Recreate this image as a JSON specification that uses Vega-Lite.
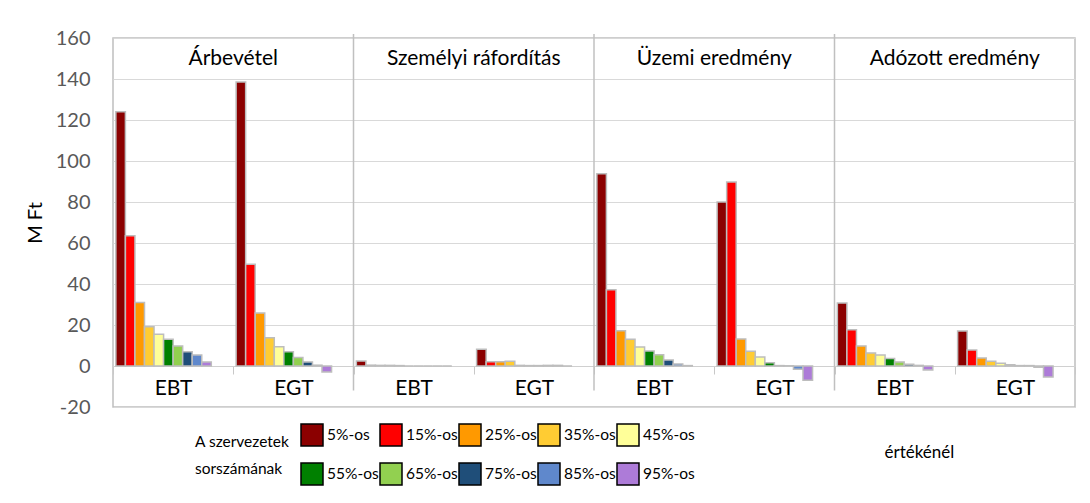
{
  "$schema": "https://vega.github.io/schema/vega-lite/v6.json",
  "autosize": {"type": "none"},
  "width": 962,
  "height": 369,
  "padding": {"left": 113, "top": 38, "right": 15, "bottom": 96},
  "background": "white",
  "config": {
    "font": "Lato",
    "view": {"stroke": "#bfbfbf", "strokeWidth": 1.5},
    "axisX": {"titleFontSize": 17, "titleFontWeight": "normal", "titleColor": "black", "labelFontSize": 21, "labelColor": "black"},
    "axisY": {"titleFontSize": 20, "titleFontWeight": "normal", "titleColor": "black", "labelFontSize": 20, "labelColor": "#595959"}
  },
  "datasets": {
    "bars": [
      {"p": "Árbevétel", "g": "EBT", "s": "5%-os", "v": 124},
      {"p": "Árbevétel", "g": "EBT", "s": "15%-os", "v": 63.5},
      {"p": "Árbevétel", "g": "EBT", "s": "25%-os", "v": 31},
      {"p": "Árbevétel", "g": "EBT", "s": "35%-os", "v": 19.2},
      {"p": "Árbevétel", "g": "EBT", "s": "45%-os", "v": 15.5},
      {"p": "Árbevétel", "g": "EBT", "s": "55%-os", "v": 13},
      {"p": "Árbevétel", "g": "EBT", "s": "65%-os", "v": 9.8},
      {"p": "Árbevétel", "g": "EBT", "s": "75%-os", "v": 7},
      {"p": "Árbevétel", "g": "EBT", "s": "85%-os", "v": 5.4},
      {"p": "Árbevétel", "g": "EBT", "s": "95%-os", "v": 2},
      {"p": "Árbevétel", "g": "EGT", "s": "5%-os", "v": 138.5},
      {"p": "Árbevétel", "g": "EGT", "s": "15%-os", "v": 49.6},
      {"p": "Árbevétel", "g": "EGT", "s": "25%-os", "v": 25.8},
      {"p": "Árbevétel", "g": "EGT", "s": "35%-os", "v": 13.8},
      {"p": "Árbevétel", "g": "EGT", "s": "45%-os", "v": 9.4},
      {"p": "Árbevétel", "g": "EGT", "s": "55%-os", "v": 7},
      {"p": "Árbevétel", "g": "EGT", "s": "65%-os", "v": 4.1},
      {"p": "Árbevétel", "g": "EGT", "s": "75%-os", "v": 2},
      {"p": "Árbevétel", "g": "EGT", "s": "85%-os", "v": 0.4},
      {"p": "Árbevétel", "g": "EGT", "s": "95%-os", "v": -2.9},
      {"p": "Személyi ráfordítás", "g": "EBT", "s": "5%-os", "v": 2.4},
      {"p": "Személyi ráfordítás", "g": "EBT", "s": "15%-os", "v": 0.4},
      {"p": "Személyi ráfordítás", "g": "EBT", "s": "25%-os", "v": 0.3},
      {"p": "Személyi ráfordítás", "g": "EBT", "s": "35%-os", "v": 0.3},
      {"p": "Személyi ráfordítás", "g": "EBT", "s": "45%-os", "v": 0.2},
      {"p": "Személyi ráfordítás", "g": "EBT", "s": "55%-os", "v": 0},
      {"p": "Személyi ráfordítás", "g": "EBT", "s": "65%-os", "v": 0},
      {"p": "Személyi ráfordítás", "g": "EBT", "s": "75%-os", "v": 0},
      {"p": "Személyi ráfordítás", "g": "EBT", "s": "85%-os", "v": 0},
      {"p": "Személyi ráfordítás", "g": "EBT", "s": "95%-os", "v": 0},
      {"p": "Személyi ráfordítás", "g": "EGT", "s": "5%-os", "v": 8.2},
      {"p": "Személyi ráfordítás", "g": "EGT", "s": "15%-os", "v": 2.1},
      {"p": "Személyi ráfordítás", "g": "EGT", "s": "25%-os", "v": 2.1},
      {"p": "Személyi ráfordítás", "g": "EGT", "s": "35%-os", "v": 2.3},
      {"p": "Személyi ráfordítás", "g": "EGT", "s": "45%-os", "v": 0.3},
      {"p": "Személyi ráfordítás", "g": "EGT", "s": "55%-os", "v": 0.2},
      {"p": "Személyi ráfordítás", "g": "EGT", "s": "65%-os", "v": 0.2},
      {"p": "Személyi ráfordítás", "g": "EGT", "s": "75%-os", "v": 0.3},
      {"p": "Személyi ráfordítás", "g": "EGT", "s": "85%-os", "v": 0.3},
      {"p": "Személyi ráfordítás", "g": "EGT", "s": "95%-os", "v": 0},
      {"p": "Üzemi eredmény", "g": "EBT", "s": "5%-os", "v": 93.8},
      {"p": "Üzemi eredmény", "g": "EBT", "s": "15%-os", "v": 37.2},
      {"p": "Üzemi eredmény", "g": "EBT", "s": "25%-os", "v": 17.2},
      {"p": "Üzemi eredmény", "g": "EBT", "s": "35%-os", "v": 13},
      {"p": "Üzemi eredmény", "g": "EBT", "s": "45%-os", "v": 9.3},
      {"p": "Üzemi eredmény", "g": "EBT", "s": "55%-os", "v": 7.3},
      {"p": "Üzemi eredmény", "g": "EBT", "s": "65%-os", "v": 5.5},
      {"p": "Üzemi eredmény", "g": "EBT", "s": "75%-os", "v": 2.9},
      {"p": "Üzemi eredmény", "g": "EBT", "s": "85%-os", "v": 1},
      {"p": "Üzemi eredmény", "g": "EBT", "s": "95%-os", "v": 0.2},
      {"p": "Üzemi eredmény", "g": "EGT", "s": "5%-os", "v": 80},
      {"p": "Üzemi eredmény", "g": "EGT", "s": "15%-os", "v": 89.8},
      {"p": "Üzemi eredmény", "g": "EGT", "s": "25%-os", "v": 13.2},
      {"p": "Üzemi eredmény", "g": "EGT", "s": "35%-os", "v": 7.2},
      {"p": "Üzemi eredmény", "g": "EGT", "s": "45%-os", "v": 4.4},
      {"p": "Üzemi eredmény", "g": "EGT", "s": "55%-os", "v": 1.6},
      {"p": "Üzemi eredmény", "g": "EGT", "s": "65%-os", "v": 0.2},
      {"p": "Üzemi eredmény", "g": "EGT", "s": "75%-os", "v": 0.1},
      {"p": "Üzemi eredmény", "g": "EGT", "s": "85%-os", "v": -1.6},
      {"p": "Üzemi eredmény", "g": "EGT", "s": "95%-os", "v": -7},
      {"p": "Adózott eredmény", "g": "EBT", "s": "5%-os", "v": 30.7},
      {"p": "Adózott eredmény", "g": "EBT", "s": "15%-os", "v": 17.7},
      {"p": "Adózott eredmény", "g": "EBT", "s": "25%-os", "v": 9.8},
      {"p": "Adózott eredmény", "g": "EBT", "s": "35%-os", "v": 6.3},
      {"p": "Adózott eredmény", "g": "EBT", "s": "45%-os", "v": 5.4},
      {"p": "Adózott eredmény", "g": "EBT", "s": "55%-os", "v": 3.6},
      {"p": "Adózott eredmény", "g": "EBT", "s": "65%-os", "v": 2},
      {"p": "Adózott eredmény", "g": "EBT", "s": "75%-os", "v": 0.8},
      {"p": "Adózott eredmény", "g": "EBT", "s": "85%-os", "v": 0.3},
      {"p": "Adózott eredmény", "g": "EBT", "s": "95%-os", "v": -1.9},
      {"p": "Adózott eredmény", "g": "EGT", "s": "5%-os", "v": 17.1},
      {"p": "Adózott eredmény", "g": "EGT", "s": "15%-os", "v": 7.8},
      {"p": "Adózott eredmény", "g": "EGT", "s": "25%-os", "v": 3.9},
      {"p": "Adózott eredmény", "g": "EGT", "s": "35%-os", "v": 2.3},
      {"p": "Adózott eredmény", "g": "EGT", "s": "45%-os", "v": 1.3},
      {"p": "Adózott eredmény", "g": "EGT", "s": "55%-os", "v": 0.6},
      {"p": "Adózott eredmény", "g": "EGT", "s": "65%-os", "v": 0.2},
      {"p": "Adózott eredmény", "g": "EGT", "s": "75%-os", "v": 0.2},
      {"p": "Adózott eredmény", "g": "EGT", "s": "85%-os", "v": -0.6},
      {"p": "Adózott eredmény", "g": "EGT", "s": "95%-os", "v": -5.4}
    ],
    "panels": [
      {"p": "Árbevétel"},
      {"p": "Személyi ráfordítás"},
      {"p": "Üzemi eredmény"},
      {"p": "Adózott eredmény"}
    ]
  },
  "layer": [
    {
      "data": {"name": "bars"},
      "transform": [{"calculate": "datum.p + '|' + datum.g", "as": "slot"}],
      "mark": {"type": "bar", "stroke": "#bdbdbd", "strokeWidth": 1.5},
      "encoding": {
        "x": {
          "field": "slot", "type": "nominal",
          "scale": {
            "domain": ["Árbevétel|EBT", "Árbevétel|EGT", "Személyi ráfordítás|EBT", "Személyi ráfordítás|EGT", "Üzemi eredmény|EBT", "Üzemi eredmény|EGT", "Adózott eredmény|EBT", "Adózott eredmény|EGT"],
            "paddingInner": 0, "paddingOuter": 0
          },
          "axis": {
            "orient": "bottom", "offset": -41,
            "domainColor": "#d0d0d0", "domainWidth": 1,
            "ticks": true, "tickBand": "extent", "tickSize": 8, "tickColor": "#c8c8c8",
            "labelExpr": "split(datum.label, '|')[1]",
            "labelAngle": 0, "labelFontSize": 21, "labelColor": "black", "labelPadding": 3,
            "title": "értékénél", "titleX": 771, "titleY": 86, "titleAlign": "left", "titleBaseline": "middle",
            "titleFontSize": 17, "titleFontWeight": "normal", "titleColor": "black"
          }
        },
        "xOffset": {
          "field": "s", "type": "nominal",
          "scale": {
            "domain": ["5%-os", "15%-os", "25%-os", "35%-os", "45%-os", "55%-os", "65%-os", "75%-os", "85%-os", "95%-os", "_a", "_b"],
            "paddingInner": 0, "paddingOuter": 0.3
          }
        },
        "y": {
          "field": "v", "type": "quantitative",
          "scale": {"domain": [-20, 160], "nice": false, "zero": true},
          "axis": {
            "values": [-20, 0, 20, 40, 60, 80, 100, 120, 140, 160],
            "labelExpr": "'' + datum.value",
            "grid": true, "gridColor": "#d9d9d9", "gridWidth": 1,
            "domain": false, "ticks": false,
            "labelFontSize": 20, "labelColor": "#595959", "labelPadding": 23,
            "title": "M Ft", "titleFontSize": 20, "titleFontWeight": "normal", "titleColor": "black", "titlePadding": 10
          }
        },
        "color": {
          "field": "s", "type": "nominal",
          "scale": {
            "domain": ["5%-os", "15%-os", "25%-os", "35%-os", "45%-os", "55%-os", "65%-os", "75%-os", "85%-os", "95%-os"],
            "range": ["#8B0000", "#FF0000", "#FF9900", "#FFCC33", "#FFFF99", "#008000", "#92D050", "#1F4E79", "#5F88CC", "#AD7BD8"]
          },
          "legend": {
            "title": ["A szervezetek", "sorszámának"],
            "orient": "none", "legendX": 82, "legendY": 385, "padding": 0,
            "columns": 5, "direction": "horizontal",
            "titleOrient": "left", "titleAnchor": "middle", "titleFontSize": 15.5, "titleFontWeight": "normal",
            "titleColor": "black", "titlePadding": 10, "titleLineHeight": 27,
            "symbolType": "square", "symbolSize": 484, "symbolStrokeColor": "black", "symbolStrokeWidth": 1.5, "symbolOpacity": 1,
            "labelFontSize": 15.5, "labelColor": "black", "labelOffset": 3,
            "columnPadding": -3, "rowPadding": 11
          }
        }
      }
    },
    {
      "data": {"name": "panels"},
      "transform": [
        {"filter": "datum.p !== 'Árbevétel'"},
        {"calculate": "datum.p + '|EBT'", "as": "slot"}
      ],
      "mark": {"type": "rule", "color": "#c0c0c0", "strokeWidth": 1.5},
      "encoding": {
        "x": {"field": "slot", "type": "nominal", "bandPosition": 0, "axis": {"title": "értékénél"}},
        "y": {"datum": 162, "type": "quantitative", "axis": {"title": "M Ft"}},
        "y2": {"datum": -12}
      }
    },
    {
      "data": {"name": "panels"},
      "transform": [{"calculate": "datum.p + '|EGT'", "as": "slot"}],
      "mark": {"type": "text", "fontSize": 21, "color": "black", "baseline": "middle", "align": "center"},
      "encoding": {
        "x": {"field": "slot", "type": "nominal", "bandPosition": 0, "axis": {"title": "értékénél"}},
        "y": {"datum": 150, "type": "quantitative", "axis": {"title": "M Ft"}},
        "text": {"field": "p"}
      }
    }
  ]
}
